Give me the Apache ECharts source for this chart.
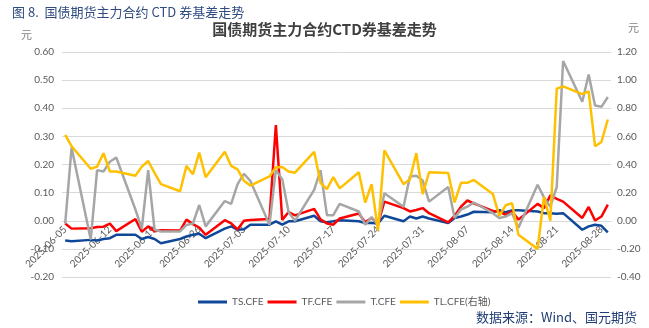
<!DOCTYPE html>
<html>
<head>
<meta charset="utf-8">
<script src="https://cdn.jsdelivr.net/npm/echarts@6/dist/echarts.min.js"></script>
<style>
  html, body { margin: 0; padding: 0; background: #ffffff; }
  #chart { width: 649px; height: 328px; }
</style>
</head>
<body>
<div id="chart"></div>
<script>
// Trading days (weekends are skipped; the axis itself runs on calendar days)
const tradeDates = [
  '2025-06-05','2025-06-06','2025-06-09','2025-06-10','2025-06-11','2025-06-12','2025-06-13',
  '2025-06-16','2025-06-17','2025-06-18','2025-06-19','2025-06-20',
  '2025-06-23','2025-06-24','2025-06-25','2025-06-26','2025-06-27',
  '2025-06-30','2025-07-01','2025-07-02','2025-07-03','2025-07-04',
  '2025-07-07','2025-07-08','2025-07-09','2025-07-10','2025-07-11',
  '2025-07-14','2025-07-15','2025-07-16','2025-07-17','2025-07-18',
  '2025-07-21','2025-07-22','2025-07-23','2025-07-24','2025-07-25',
  '2025-07-28','2025-07-29','2025-07-30','2025-07-31','2025-08-01',
  '2025-08-04','2025-08-05','2025-08-06','2025-08-07','2025-08-08',
  '2025-08-11','2025-08-12','2025-08-13','2025-08-14','2025-08-15',
  '2025-08-18','2025-08-19','2025-08-20','2025-08-21','2025-08-22',
  '2025-08-25','2025-08-26','2025-08-27','2025-08-28','2025-08-29'
];

// CTD basis, yuan
const tsCFE = [
  -0.070,-0.073,-0.068,-0.070,-0.065,-0.062,-0.050,
  -0.050,-0.065,-0.058,-0.065,-0.080,
  -0.065,-0.056,-0.050,-0.046,-0.062,
  -0.028,-0.020,-0.032,-0.030,-0.014,
  -0.014,-0.002,-0.014,-0.002,-0.002,
   0.018,-0.002,-0.005,-0.002, 0.002,
  -0.002,-0.008,-0.008,-0.010, 0.018,
  -0.002, 0.015, 0.008, 0.015, 0.008,
  -0.008, 0.010, 0.015, 0.022, 0.032,
   0.030, 0.038, 0.030, 0.037, 0.037,
   0.033, 0.027, 0.027, 0.025, 0.027,
  -0.032,-0.020,-0.014,-0.018,-0.041
];
const tfCFE = [
  -0.010,-0.028,-0.027,-0.022,-0.021,-0.010,-0.037,
   0.006,-0.039,-0.020,-0.037,-0.034,
  -0.035, 0.004,-0.012,-0.024,-0.050,
   0.002,-0.009,-0.031, 0.000, 0.003,
   0.006, 0.340, 0.003, 0.031, 0.019,
   0.042, 0.005,-0.010,-0.014, 0.008,
   0.026,-0.005, 0.010,-0.012, 0.068,
   0.045, 0.033, 0.038, 0.045, 0.027,
  -0.006, 0.017, 0.050, 0.072, 0.062,
   0.035, 0.033, 0.021, 0.033, 0.004,
   0.060, 0.045, 0.090, 0.078, 0.068,
   0.010, 0.049, 0.001, 0.015, 0.057
];
const tCFE = [
  -0.010, 0.260,-0.067, 0.180, 0.175, 0.210, 0.225,
   0.040,-0.028, 0.180,-0.032,-0.038,
  -0.038,-0.015,-0.010, 0.056,-0.020,
   0.070, 0.060, 0.130, 0.167, 0.142,
  -0.014, 0.180, 0.148, 0.030, 0.000,
   0.110, 0.180, 0.020, 0.020, 0.060,
   0.033,-0.014, 0.013,-0.014, 0.098,
   0.050, 0.157, 0.160, 0.143, 0.068,
   0.120, 0.010, 0.040, 0.050, 0.065,
   0.027, 0.010, 0.015, 0.027,-0.025,
   0.128, 0.083, 0.050, 0.120, 0.568,
   0.423, 0.520, 0.410, 0.405, 0.440
];
// TL is read on the right-hand axis
const tlCFE = [
   0.610, 0.530, 0.370, 0.385, 0.480, 0.350, 0.350,
   0.320, 0.385, 0.425, 0.340, 0.260,
   0.210, 0.390, 0.330, 0.485, 0.310,
   0.490, 0.390, 0.365, 0.285, 0.250,
   0.315, 0.380, 0.382, 0.350, 0.342,
   0.490, 0.270, 0.225, 0.310, 0.230,
   0.345, 0.130, 0.260,-0.070, 0.500,
   0.260, 0.295, 0.480, 0.190, 0.345,
   0.340, 0.130, 0.270, 0.270, 0.290,
   0.190, 0.035, 0.110, 0.125,-0.100,
  -0.200, 0.170, 0.000, 0.940, 0.955,
   0.900, 0.920, 0.530, 0.560, 0.720
];

const seriesNames = ['TS.CFE', 'TF.CFE', 'T.CFE', 'TL.CFE(右轴)'];
const seriesColors = ['#0F4898', '#FF0000', '#A6A6A6', '#FFC000'];

// Left axis range; the date axis sits on its zero line
const leftMin = -0.2, leftMax = 0.6;
const gridTop = 52, gridBottom = 51, chartHeight = 328;

// Calendar-day categories spanning the trading range
function fmtDay(t) {
  const d = new Date(t);
  const p = n => (n < 10 ? '0' + n : '' + n);
  return d.getUTCFullYear() + '-' + p(d.getUTCMonth() + 1) + '-' + p(d.getUTCDate());
}
const calendarDays = [];
for (let t = Date.parse(tradeDates[0] + 'T00:00:00Z');
     t <= Date.parse(tradeDates[tradeDates.length - 1] + 'T00:00:00Z');
     t += 86400000) {
  calendarDays.push(fmtDay(t));
}

const pairs = arr => tradeDates.map((d, i) => [d, arr[i]]);
const valueSets = [tsCFE, tfCFE, tCFE, tlCFE];

// Lift the date axis from the grid's bottom edge up to the zero line
const plotHeight = chartHeight - gridTop - gridBottom;
const zeroLift = plotHeight * (0 - leftMin) / (leftMax - leftMin);

const latin = 'Lato, "Noto Sans CJK SC", sans-serif';
const axisText = { color: '#595959', fontSize: 10, fontFamily: latin };

const chart = echarts.init(document.getElementById('chart'), null, { renderer: 'canvas' });
chart.setOption({
  animation: false,
  backgroundColor: '#ffffff',
  title: [
    {
      text: '图 8.  国债期货主力合约 CTD 券基差走势',
      left: 7, top: 1,
      textStyle: { color: '#2F4C80', fontSize: 13, fontWeight: 'normal', fontFamily: '"Noto Sans CJK SC", sans-serif' }
    },
    {
      text: '国债期货主力合约CTD券基差走势',
      left: 'center', top: 17,
      textStyle: { color: '#404040', fontSize: 15, fontWeight: 'bold', fontFamily: '"Noto Sans CJK SC", sans-serif' }
    }
  ],
  graphic: [
    { type: 'text', left: 21, top: 29, style: { text: '元', fill: '#7F7F7F', fontSize: 11, fontFamily: '"Noto Sans CJK SC", sans-serif' } },
    { type: 'text', left: 628, top: 22, style: { text: '元', fill: '#7F7F7F', fontSize: 11, fontFamily: '"Noto Sans CJK SC", sans-serif' } },
    { type: 'text', right: 12, top: 311, style: { text: '数据来源：Wind、国元期货', fill: '#1F3D73', fontSize: 13, fontFamily: '"Noto Sans CJK SC", sans-serif' } }
  ],
  legend: {
    data: seriesNames,
    left: 193, top: 292,
    icon: 'rect',
    itemWidth: 29, itemHeight: 3,
    itemGap: 4,
    textStyle: { color: '#595959', fontSize: 10, fontFamily: latin }
  },
  grid: { left: 62, right: 38, top: gridTop, bottom: gridBottom, containLabel: false },
  xAxis: {
    type: 'category',
    data: calendarDays,
    boundaryGap: true,
    offset: -zeroLift,
    axisLine: { show: true, onZero: false, lineStyle: { color: '#D9D9D9' } },
    axisTick: { show: false },
    axisLabel: { ...axisText, interval: 6, rotate: 45, margin: 7 },
    splitLine: { show: false }
  },
  yAxis: [
    {
      type: 'value', min: leftMin, max: leftMax, interval: 0.1,
      axisLine: { show: false }, axisTick: { show: false },
      axisLabel: { ...axisText, margin: 8, formatter: v => v.toFixed(2) },
      splitLine: { show: true, lineStyle: { color: '#D9D9D9', width: 1 } }
    },
    {
      type: 'value', min: -0.4, max: 1.2, interval: 0.2,
      axisLine: { show: false }, axisTick: { show: false },
      axisLabel: { ...axisText, margin: 6, formatter: v => v.toFixed(2) },
      splitLine: { show: false }
    }
  ],
  series: seriesNames.map((name, i) => ({
    name,
    type: 'line',
    yAxisIndex: i === 3 ? 1 : 0,
    data: pairs(valueSets[i]),
    showSymbol: false,
    symbol: 'none',
    color: seriesColors[i],
    lineStyle: { width: 2.5, color: seriesColors[i] },
    z: 2 + i
  }))
});
</script>
</body>
</html>
